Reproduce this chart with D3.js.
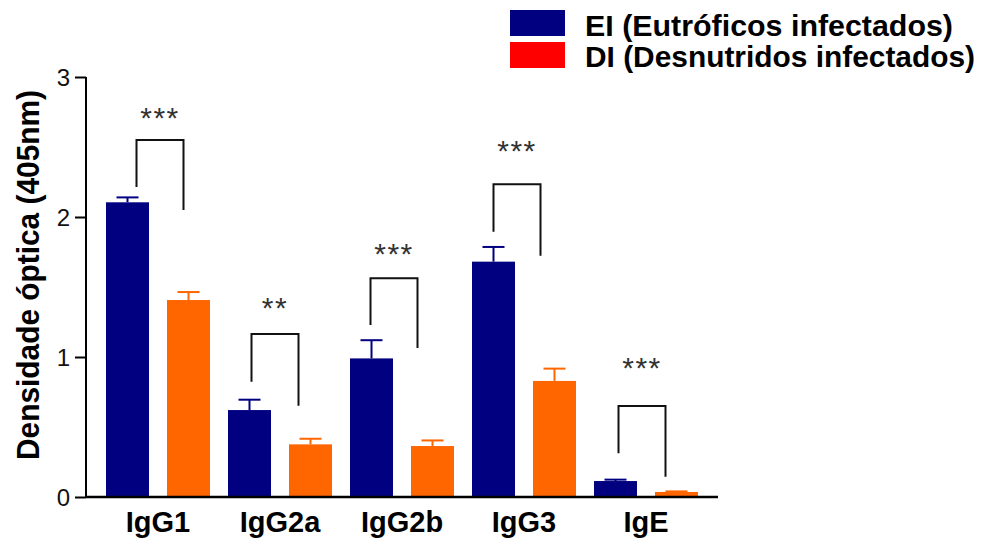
<!DOCTYPE html>
<html>
<head>
<meta charset="utf-8">
<script src="https://cdn.jsdelivr.net/npm/d3@7"></script>
<style>
  html, body { margin: 0; padding: 0; background: #fff; }
  svg { display: block; }
</style>
</head>
<body>
<svg id="chart" width="1003" height="541"></svg>
<script>
// ---- data ----
const categories = ["IgG1", "IgG2a", "IgG2b", "IgG3", "IgE"];
const seriesNames = ["EI (Eutróficos infectados)", "DI (Desnutridos infectados)"];
const eiMeans  = [2.105, 0.621, 0.990, 1.681, 0.114];
const eiErrors = [0.035, 0.074, 0.130, 0.105, 0.010];
const diMeans  = [1.407, 0.376, 0.364, 0.829, 0.036];
const diErrors = [0.057, 0.040, 0.040, 0.088, 0.004];
const yTicks = [0, 1, 2, 3];
const sigLabels   = ["***", "**", "***", "***", "***"];
const sigLabelAt  = [2.729, 1.375, 1.757, 2.496, 0.946];
const sigTop      = [2.550, 1.164, 1.562, 2.234, 0.650];
const sigLeftEnd  = [2.214, 0.824, 1.229, 1.895, 0.312];
const sigRightEnd = [2.050, 0.652, 1.064, 1.724, 0.145];

// ---- style ----
const barColors = ["#000080", "#FF6600"];
const legendColors = ["#000080", "#FF0000"];
const legendTextLen = [368, 390];
const bracketNudge = [2, -5, -8, -7, -4];
const FONT = "'Liberation Sans', Arial, Helvetica, sans-serif";

const svg = d3.select("#chart");

const x0 = d3.scaleBand().domain(categories).range([97, 707]).paddingInner(0).paddingOuter(0);
const x1 = d3.scaleBand().domain([0, 1]).range([0, x0.bandwidth()]).paddingInner(0.295).paddingOuter(0.1475);
const y = d3.scaleLinear().domain([0, 3]).range([497, 77]);

const rows = [];
categories.forEach((c, i) => {
  rows.push({cat: c, s: 0, v: eiMeans[i], e: eiErrors[i]});
  rows.push({cat: c, s: 1, v: diMeans[i], e: diErrors[i]});
});

// bars
svg.append("g").selectAll("rect").data(rows).join("rect")
  .attr("x", d => x0(d.cat) + x1(d.s))
  .attr("y", d => y(d.v))
  .attr("width", x1.bandwidth())
  .attr("height", d => y(0) - y(d.v))
  .attr("fill", d => barColors[d.s]);

// error bars (upper only)
const eg = svg.append("g");
rows.forEach(d => {
  const cx = x0(d.cat) + x1(d.s) + x1.bandwidth() / 2;
  eg.append("line").attr("x1", cx).attr("x2", cx).attr("y1", y(d.v)).attr("y2", y(d.v + d.e))
    .attr("stroke", barColors[d.s]).attr("stroke-width", 2);
  eg.append("line").attr("x1", cx - 11).attr("x2", cx + 11).attr("y1", y(d.v + d.e)).attr("y2", y(d.v + d.e))
    .attr("stroke", barColors[d.s]).attr("stroke-width", 2);
});

// y axis
const yAxis = svg.append("g").attr("transform", "translate(86,0)")
  .call(d3.axisLeft(y).tickValues(yTicks).tickFormat(d3.format("d")).tickSize(11).tickPadding(5));
yAxis.select(".domain").attr("stroke", "#000").attr("stroke-width", 2).attr("d", `M0,${y(3)}V${y(0)}`);
yAxis.selectAll(".tick line").attr("stroke", "#000").attr("stroke-width", 2);
yAxis.selectAll(".tick text").attr("font-family", FONT).attr("font-size", 24).attr("fill", "#111")
  .attr("dy", "0.34em");

// x axis
const xAxis = svg.append("g").attr("transform", `translate(0,${y(0)})`)
  .call(d3.axisBottom(x0).tickSize(0).tickPadding(13));
xAxis.select(".domain").attr("stroke", "#000").attr("stroke-width", 2.5).attr("d", "M86,0H718");
xAxis.selectAll(".tick text").attr("font-family", FONT).attr("font-size", 29).attr("font-weight", "bold")
  .attr("fill", "#000").attr("dy", "0.75em");

// y title
svg.append("text")
  .attr("transform", `translate(39,${(y(0) + y(3)) / 2 - 12}) rotate(-90)`)
  .attr("text-anchor", "middle")
  .attr("font-family", FONT).attr("font-size", 31).attr("font-weight", "bold")
  .attr("textLength", 370).attr("lengthAdjust", "spacingAndGlyphs")
  .text("Densidade óptica (405nm)");

// significance brackets
const sg = svg.append("g");
categories.forEach((c, i) => {
  const cx = x0(c) + x0.bandwidth() / 2 + bracketNudge[i];
  const xl = cx - 23.5, xr = cx + 23.5;
  sg.append("path")
    .attr("d", `M${xl},${y(sigLeftEnd[i])}V${y(sigTop[i])}H${xr}V${y(sigRightEnd[i])}`)
    .attr("fill", "none").attr("stroke", "#111").attr("stroke-width", 2);
  sg.append("text")
    .attr("x", cx).attr("y", y(sigLabelAt[i]) + 13)
    .attr("text-anchor", "middle")
    .attr("font-family", FONT).attr("font-size", 30).attr("fill", "#333")
    .attr("letter-spacing", 1.5)
    .text(sigLabels[i]);
});

// legend
const lg = svg.append("g");
seriesNames.forEach((n, i) => {
  lg.append("rect").attr("x", 510).attr("y", 10 + i * 32).attr("width", 55).attr("height", 26)
    .attr("fill", legendColors[i]);
  lg.append("text").attr("x", 585).attr("y", 36 + i * 31)
    .attr("font-family", FONT).attr("font-size", 29).attr("font-weight", "bold")
    .attr("textLength", legendTextLen[i]).attr("lengthAdjust", "spacingAndGlyphs")
    .text(n);
});
</script>
</body>
</html>
